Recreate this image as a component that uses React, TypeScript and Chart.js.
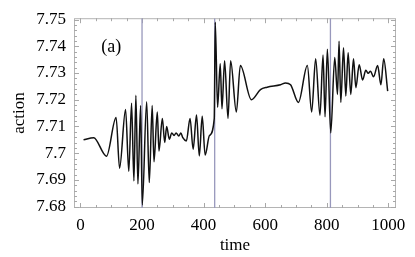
import React, { useEffect, useRef } from "react";
import { Chart, registerables } from "chart.js";
Chart.register(...registerables);

// time values of the curve's turning points
const times = [
  10, 43, 84.5, 115.8, 127, 146.5, 157, 166, 173.6, 180,
  186.6, 195.4, 200.7, 215, 223.5, 233, 238.8, 249.6, 255, 266,
  273.7, 280, 288.7, 296.6, 304, 310.6, 319.4, 326, 332.5, 344,
  356, 366, 377, 386, 395.5, 405, 419, 434.6, 437.9, 445.4,
  454, 459.7, 468.2, 479.3, 487.8, 506.4, 519.4, 555.3, 584.7, 606.5,
  650, 666, 682.5, 708, 737, 751, 764, 778, 788, 794.5,
  802, 813, 826, 835, 840, 845.7, 854.5, 862, 869.5, 878,
  887, 894.6, 905.4, 916.5, 927, 934.7, 942, 952, 965.4, 976,
  985, 998,
];
// action values at those times
const actions = [
  7.7050, 7.7058, 7.6989, 7.7134, 7.6944, 7.7163, 7.6932, 7.7187, 7.6896, 7.7217,
  7.6885, 7.7178, 7.6806, 7.7192, 7.6890, 7.7178, 7.6968, 7.7154, 7.7008, 7.7130,
  7.7040, 7.7100, 7.7052, 7.7076, 7.7066, 7.7076, 7.7064, 7.7076, 7.7058, 7.7046,
  7.7130, 7.7015, 7.7143, 7.6990, 7.7138, 7.6993, 7.7066, 7.7130, 7.7490, 7.7172,
  7.7335, 7.7166, 7.7346, 7.7130, 7.7346, 7.7154, 7.7328, 7.7200, 7.7238, 7.7247,
  7.7256, 7.7263, 7.7256, 7.7190, 7.7328, 7.7154, 7.7353, 7.7142, 7.7367, 7.7136,
  7.7389, 7.7076, 7.7358, 7.7220, 7.7419, 7.7190, 7.7394, 7.7214, 7.7376, 7.7220,
  7.7353, 7.7245, 7.7331, 7.7274, 7.7310, 7.7299, 7.7307, 7.7286, 7.7328, 7.7256,
  7.7353, 7.7232,
];
const markerTimes = [200, 436, 812];
const xTicks = [0, 200, 400, 600, 800, 1000];
const yTicks = [7.68, 7.69, 7.7, 7.71, 7.72, 7.73, 7.74, 7.75];
const xRange = [-21, 1025];
const yRange = [7.6795, 7.7505];
const panelLabel = { text: "(a)", x: 100, y: 7.7397 };
const xTitle = "time";
const yTitle = "action";

const FONT = "'Liberation Serif', 'Times New Roman', serif";

const framePlugin = {
  id: "frame",
  beforeDatasetsDraw(chart: any) {
    const { ctx, chartArea: a, scales } = chart;
    const sx = scales.x;
    const sy = scales.y;
    ctx.save();
    ctx.strokeStyle = "#b4b4b4";
    ctx.lineWidth = 1;
    ctx.strokeRect(a.left + 0.5, a.top + 0.5, a.right - a.left - 1, a.bottom - a.top - 1);
    ctx.strokeStyle = "#a8a8a8";
    ctx.beginPath();
    for (let v = xTicks[0]; v <= xTicks[xTicks.length - 1] + 1e-9; v += 50) {
      const px = Math.round(sx.getPixelForValue(v)) + 0.5;
      const len = Math.abs(v % 200) < 1e-6 ? 5 : 3;
      ctx.moveTo(px, a.bottom);
      ctx.lineTo(px, a.bottom - len);
      ctx.moveTo(px, a.top);
      ctx.lineTo(px, a.top + len);
    }
    for (let i = 0; i <= 35; i++) {
      const v = yTicks[0] + i * 0.002;
      const py = Math.round(sy.getPixelForValue(v)) + 0.5;
      const len = i % 5 === 0 ? 5 : 3;
      ctx.moveTo(a.left, py);
      ctx.lineTo(a.left + len, py);
      ctx.moveTo(a.right, py);
      ctx.lineTo(a.right - len, py);
    }
    ctx.stroke();
    ctx.restore();
  },
  afterDatasetsDraw(chart: any) {
    const { ctx, scales } = chart;
    ctx.save();
    ctx.fillStyle = "#000";
    ctx.font = `18px ${FONT}`;
    ctx.textAlign = "center";
    ctx.textBaseline = "middle";
    ctx.fillText(panelLabel.text, scales.x.getPixelForValue(panelLabel.x), scales.y.getPixelForValue(panelLabel.y));
    ctx.restore();
  },
};

export default function App() {
  const ref = useRef<HTMLCanvasElement>(null);
  useEffect(() => {
    const chart = new Chart(ref.current as HTMLCanvasElement, {
      type: "line",
      data: {
        datasets: [
          {
            data: times.map((t, i) => ({ x: t, y: actions[i] })),
            borderColor: "#111",
            borderWidth: 1.5,
            pointRadius: 0,
            cubicInterpolationMode: "monotone",
            order: 0,
          } as any,
          ...markerTimes.map((t) => ({
            data: [
              { x: t, y: yRange[0] },
              { x: t, y: yRange[1] },
            ],
            borderColor: "#9898bc",
            borderWidth: 1.3,
            pointRadius: 0,
            order: 1,
          })),
        ],
      },
      options: {
        animation: false,
        responsive: false,
        layout: { padding: { top: 11, right: 19, left: 0, bottom: 0 } },
        plugins: { legend: { display: false }, tooltip: { enabled: false } },
        scales: {
          x: {
            type: "linear",
            min: xRange[0],
            max: xRange[1],
            afterBuildTicks: (s: any) => {
              s.ticks = xTicks.map((v) => ({ value: v }));
            },
            afterFit: (s: any) => {
              s.height = 49;
            },
            grid: { display: false, drawTicks: false },
            border: { display: false },
            ticks: {
              padding: 7,
              color: "#000",
              maxRotation: 0,
              font: { family: FONT, size: 17, lineHeight: 1.2 },
              callback: (v: any) => String(v),
            },
            title: {
              display: true,
              text: xTitle,
              color: "#000",
              font: { family: FONT, size: 17, lineHeight: 1.2 },
              padding: { top: 0, bottom: 1 },
            },
          },
          y: {
            type: "linear",
            min: yRange[0],
            max: yRange[1],
            afterBuildTicks: (s: any) => {
              s.ticks = yTicks.map((v) => ({ value: v }));
            },
            afterFit: (s: any) => {
              s.width = 74;
            },
            grid: { display: false, drawTicks: false },
            border: { display: false },
            ticks: {
              padding: 8,
              color: "#000",
              font: { family: FONT, size: 17, lineHeight: 1.2 },
              callback: (v: any) => String(Number(Number(v).toFixed(2))),
            },
            title: {
              display: true,
              text: yTitle,
              color: "#000",
              font: { family: FONT, size: 17, lineHeight: 1.2 },
              padding: { top: 9, bottom: 0 },
            },
          },
        },
      },
      plugins: [framePlugin],
    } as any);
    return () => chart.destroy();
  }, []);
  return (
    <div style={{ position: "absolute", left: 0, top: 0, width: 415, height: 257 }}>
      <canvas ref={ref} width={415} height={257} />
    </div>
  );
}
